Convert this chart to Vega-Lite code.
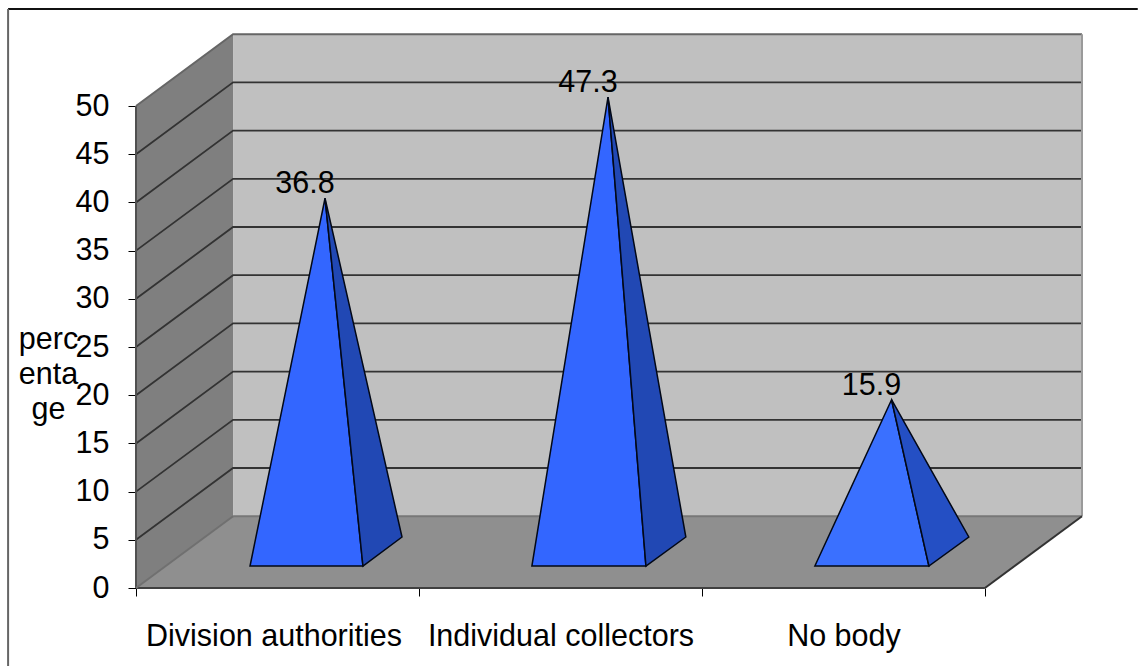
{
  "$schema": "https://vega.github.io/schema/vega-lite/v6.json",
  "width": 946,
  "height": 554,
  "autosize": {"type": "none"},
  "padding": {"left": 136, "top": 34, "right": 56, "bottom": 78},
  "background": "white",
  "config": {"view": {"stroke": null}, "font": "Liberation Sans"},
  "resolve": {"scale": {"color": "independent"}},
  "datasets": {
    "walls": [
      {"surface": "side wall", "x": 0, "y": 50, "y2": 0},
      {"surface": "side wall", "x": 0.343, "y": 57.45, "y2": 7.45},
      {"surface": "back wall", "x": 0.343, "y": 57.45, "y2": 7.45},
      {"surface": "back wall", "x": 3.343, "y": 57.45, "y2": 7.45},
      {"surface": "floor", "x": 0, "y": 0, "y2": 0},
      {"surface": "floor", "x": 0.343, "y": 7.45, "y2": 0},
      {"surface": "floor", "x": 3, "y": 7.45, "y2": 0},
      {"surface": "floor", "x": 3.343, "y": 7.45, "y2": 7.45}
    ],
    "gridlines": [
      {"level": 5, "x": 0, "y": 5}, {"level": 5, "x": 0.343, "y": 12.45}, {"level": 5, "x": 3.343, "y": 12.45},
      {"level": 10, "x": 0, "y": 10}, {"level": 10, "x": 0.343, "y": 17.45}, {"level": 10, "x": 3.343, "y": 17.45},
      {"level": 15, "x": 0, "y": 15}, {"level": 15, "x": 0.343, "y": 22.45}, {"level": 15, "x": 3.343, "y": 22.45},
      {"level": 20, "x": 0, "y": 20}, {"level": 20, "x": 0.343, "y": 27.45}, {"level": 20, "x": 3.343, "y": 27.45},
      {"level": 25, "x": 0, "y": 25}, {"level": 25, "x": 0.343, "y": 32.45}, {"level": 25, "x": 3.343, "y": 32.45},
      {"level": 30, "x": 0, "y": 30}, {"level": 30, "x": 0.343, "y": 37.45}, {"level": 30, "x": 3.343, "y": 37.45},
      {"level": 35, "x": 0, "y": 35}, {"level": 35, "x": 0.343, "y": 42.45}, {"level": 35, "x": 3.343, "y": 42.45},
      {"level": 40, "x": 0, "y": 40}, {"level": 40, "x": 0.343, "y": 47.45}, {"level": 40, "x": 3.343, "y": 47.45},
      {"level": 45, "x": 0, "y": 45}, {"level": 45, "x": 0.343, "y": 52.45}, {"level": 45, "x": 3.343, "y": 52.45}
    ],
    "edges": [
      {"edge": "value axis", "x": 0, "y": 0}, {"edge": "value axis", "x": 0, "y": 50},
      {"edge": "wall top", "x": 0, "y": 50}, {"edge": "wall top", "x": 0.343, "y": 57.45}, {"edge": "wall top", "x": 3.343, "y": 57.45},
      {"edge": "wall right", "x": 3.343, "y": 7.45}, {"edge": "wall right", "x": 3.343, "y": 57.45},
      {"edge": "floor back", "x": 0.343, "y": 7.45}, {"edge": "floor back", "x": 3.343, "y": 7.45},
      {"edge": "floor front", "x": 0, "y": 0}, {"edge": "floor front", "x": 3, "y": 0},
      {"edge": "floor right", "x": 3, "y": 0}, {"edge": "floor right", "x": 3.343, "y": 7.45},
      {"edge": "floor left", "x": 0, "y": 0}, {"edge": "floor left", "x": 0.343, "y": 7.45},
      {"edge": "frame top", "x": -0.452, "y": 60.06}, {"edge": "frame top", "x": 3.54, "y": 60.06},
      {"edge": "frame left", "x": -0.452, "y": -8.09}, {"edge": "frame left", "x": -0.452, "y": 60.06}
    ],
    "faces": [
      {"part": "front A", "x": 0.403, "y": -1.35, "y2": -1.35},
      {"part": "front A", "x": 0.668, "y": 36.8, "y2": -1.35},
      {"part": "front A", "x": 0.802, "y": -1.35, "y2": -1.35},
      {"part": "side A", "x": 0.668, "y": 36.8, "y2": 36.8},
      {"part": "side A", "x": 0.802, "y": 19.49, "y2": -1.35},
      {"part": "side A", "x": 0.94, "y": 1.66, "y2": 1.66},
      {"part": "front B", "x": 1.399, "y": -1.35, "y2": -1.35},
      {"part": "front B", "x": 1.668, "y": 47.3, "y2": -1.35},
      {"part": "front B", "x": 1.802, "y": -1.35, "y2": -1.35},
      {"part": "side B", "x": 1.668, "y": 47.3, "y2": 47.3},
      {"part": "side B", "x": 1.802, "y": 25.06, "y2": -1.35},
      {"part": "side B", "x": 1.943, "y": 1.66, "y2": 1.66},
      {"part": "front C", "x": 2.399, "y": -1.35, "y2": -1.35},
      {"part": "front C", "x": 2.67, "y": 15.9, "y2": -1.35},
      {"part": "front C", "x": 2.802, "y": -1.35, "y2": -1.35},
      {"part": "side C", "x": 2.67, "y": 15.9, "y2": 15.9},
      {"part": "side C", "x": 2.802, "y": 9.02, "y2": -1.35},
      {"part": "side C", "x": 2.943, "y": 1.66, "y2": 1.66}
    ],
    "shares": [
      {"group": "Division authorities", "x": 0.668, "value": 36.8},
      {"group": "Individual collectors", "x": 1.668, "value": 47.3},
      {"group": "No body", "x": 2.67, "value": 15.9}
    ]
  },
  "layer": [
    {
      "data": {"name": "walls"},
      "mark": {"type": "area", "orient": "vertical"},
      "encoding": {
        "x": {
          "field": "x",
          "type": "quantitative",
          "scale": {"domain": [0, 3.343], "nice": false, "zero": false},
          "axis": {
            "title": null,
            "grid": false,
            "domain": false,
            "values": [0, 0.486, 1, 1.5, 2, 2.5, 3],
            "tickSize": 8,
            "tickColor": "#000000",
            "tickOpacity": {"condition": {"test": "datum.value % 1 !== 0", "value": 0}, "value": 1},
            "labelExpr": "datum.value === 0.486 ? 'Division authorities' : datum.value === 1.5 ? 'Individual collectors' : datum.value === 2.5 ? 'No body' : ''",
            "labelFont": "Liberation Sans",
            "labelFontSize": 30.5,
            "labelColor": "#000000",
            "labelAngle": 0,
            "labelPadding": 25,
            "labelLimit": 400,
            "labelOverlap": false,
            "labelBound": false,
            "labelFlush": false
          }
        },
        "y": {
          "field": "y",
          "type": "quantitative",
          "scale": {"domain": [0, 57.47], "nice": false, "zero": false},
          "axis": {
            "title": ["perc", "enta", "ge"],
            "titleAngle": 0,
            "titleAlign": "center",
            "titleBaseline": "alphabetic",
            "titleX": -88,
            "titleY": 314,
            "titleFont": "Liberation Sans",
            "titleFontSize": 30.5,
            "titleFontWeight": "normal",
            "titleColor": "#000000",
            "titleLineHeight": 35,
            "grid": false,
            "domain": false,
            "values": [0, 5, 10, 15, 20, 25, 30, 35, 40, 45, 50],
            "tickSize": 8,
            "tickColor": "#000000",
            "labelFont": "Liberation Sans",
            "labelFontSize": 30.5,
            "labelColor": "#000000",
            "labelPadding": 19,
            "labelOverlap": false,
            "labelBound": false,
            "labelFlush": false
          }
        },
        "y2": {"field": "y2"},
        "detail": {"field": "surface"},
        "color": {
          "field": "surface",
          "type": "nominal",
          "legend": null,
          "scale": {"domain": ["side wall", "back wall", "floor"], "range": ["#7f7f7f", "#c0c0c0", "#8f8f8f"]}
        }
      }
    },
    {
      "data": {"name": "gridlines"},
      "mark": {"type": "line", "color": "#333333", "strokeWidth": 1.8},
      "encoding": {
        "x": {"field": "x", "type": "quantitative"},
        "y": {"field": "y", "type": "quantitative"},
        "detail": {"field": "level"}
      }
    },
    {
      "data": {"name": "edges"},
      "mark": {"type": "line", "strokeWidth": 2},
      "encoding": {
        "x": {"field": "x", "type": "quantitative"},
        "y": {"field": "y", "type": "quantitative"},
        "color": {
          "field": "edge",
          "type": "nominal",
          "legend": null,
          "scale": {
            "domain": ["value axis", "wall top", "wall right", "floor back", "floor front", "floor right", "floor left", "frame top", "frame left"],
            "range": ["#505050", "#666666", "#9a9a9a", "#777777", "#404040", "#333333", "#707070", "#111111", "#666666"]
          }
        }
      }
    },
    {
      "data": {"name": "faces"},
      "mark": {"type": "area", "orient": "vertical", "stroke": "#020817", "strokeWidth": 1.5, "yOffset": -35, "y2Offset": -35},
      "encoding": {
        "x": {"field": "x", "type": "quantitative"},
        "y": {"field": "y", "type": "quantitative"},
        "y2": {"field": "y2"},
        "color": {
          "field": "part",
          "type": "nominal",
          "legend": null,
          "scale": {
            "domain": ["front A", "side A", "front B", "side B", "front C", "side C"],
            "range": ["#3366ff", "#2148b4", "#3366ff", "#2148b4", "#3a70ff", "#244fc4"]
          }
        }
      }
    },
    {
      "data": {"name": "shares"},
      "mark": {"type": "text", "font": "Liberation Sans", "fontSize": 30.5, "color": "#000000", "baseline": "middle", "yOffset": -35, "dy": -14, "dx": -20},
      "encoding": {
        "x": {"field": "x", "type": "quantitative"},
        "y": {"field": "value", "type": "quantitative"},
        "text": {"field": "value", "type": "quantitative", "format": ".1f"}
      }
    }
  ]
}
